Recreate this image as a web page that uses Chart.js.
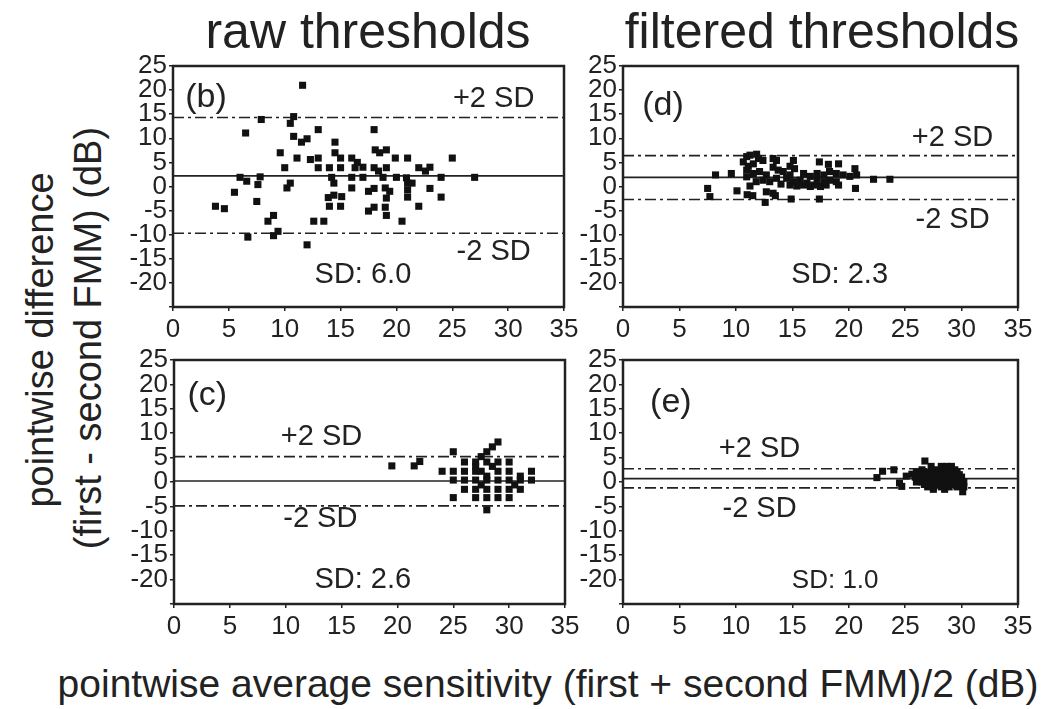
<!DOCTYPE html>
<html lang="en">
<head>
<meta charset="UTF-8">
<title>Pointwise difference vs average sensitivity</title>
<script src="https://cdn.jsdelivr.net/npm/chart.js"></script>
<style>
  body { margin: 0; background: #fff; }
  #page { position: relative; width: 1042px; height: 709px; overflow: hidden;
          font-family: 'Liberation Sans', Arial, sans-serif; color: #222; }
  .t { position: absolute; white-space: nowrap; line-height: 1; }
  canvas { position: absolute; }
</style>
</head>
<body>
<div id="page">
  <div class="t" style="left:368px; top:6px; font-size:50px; transform:translateX(-50%);">raw thresholds</div>
  <div class="t" style="left:822px; top:6px; font-size:50px; transform:translateX(-50%);">filtered thresholds</div>
  <div class="t" style="left:40px; top:340px; font-size:38px; transform:translate(-50%,-50%) rotate(-90deg);">pointwise difference</div>
  <div class="t" style="left:88px; top:338px; font-size:38px; transform:translate(-50%,-50%) rotate(-90deg);">(first - second FMM) (dB)</div>
  <div class="t" style="left:548px; top:664px; font-size:39px; transform:translateX(-50%);">pointwise average sensitivity (first + second FMM)/2 (dB)</div>
  <canvas id="panelB"></canvas>
  <canvas id="panelD"></canvas>
  <canvas id="panelC"></canvas>
  <canvas id="panelE"></canvas>
</div>

<script>
// x axis: pointwise average sensitivity (dB), y axis: pointwise difference (dB)
const xTicks = [0, 5, 10, 15, 20, 25, 30, 35];
const yTicks = [-25, -20, -15, -10, -5, 0, 5, 10, 15, 20, 25];

// (b) raw thresholds, first eye
const bX = [11.6, 7.9, 10.8, 10.5, 6.5, 13.0, 18.0, 10.8, 11.5, 12.0, 14.5, 9.6, 14.5, 18.1, 18.5,
            19.1, 11.1, 12.3, 13.0, 15.0, 16.0, 16.5, 17.0, 19.9, 21.0, 25.0, 10.0, 13.0, 14.0, 15.0,
            16.3, 18.0, 18.4, 19.1, 22.0, 22.6, 23.0, 6.0, 6.6, 7.8, 7.6, 14.2, 16.0, 17.0, 18.8,
            20.0, 20.9, 24.0, 27.0, 5.5, 7.5, 3.8, 4.6, 10.2, 10.5, 14.4, 13.9, 14.4, 15.1, 14.0,
            15.0, 16.0, 17.5, 18.0, 19.0, 19.4, 19.1, 17.5, 18.0, 19.0, 19.1, 21.0, 21.4, 21.0, 21.0,
            23.0, 24.0, 22.0, 20.5, 12.6, 13.5, 8.5, 9.0, 9.0, 9.4, 6.7, 12.0];
const bY = [21.0, 13.9, 14.5, 13.1, 11.1, 11.8, 11.8, 10.4, 9.2, 9.9, 9.2, 7.0, 7.0, 7.6, 7.0,
            7.6, 5.9, 5.6, 5.9, 5.9, 5.9, 5.0, 4.0, 5.9, 5.9, 5.9, 3.9, 3.9, 3.9, 3.9,
            3.9, 3.9, 3.2, 3.9, 3.9, 3.2, 4.0, 1.9, 1.1, 2.0, 0.4, 1.9, 1.9, 1.9, 1.9,
            1.9, 1.8, 1.9, 1.9, -1.2, -3.1, -4.1, -4.6, -0.3, 0.7, 0.7, -2.3, -1.8, -2.1, -4.1,
            -4.1, -0.3, -1.0, -0.4, -0.3, -1.0, -2.4, -5.1, -4.3, -4.3, -6.0, 0.7, 0.7, -0.7, -2.2,
            -0.4, -2.2, -4.1, -7.2, -7.2, -7.2, -7.2, -6.0, -10.2, -9.3, -10.5, -12.1];

// (d) filtered thresholds, first eye
const dX = [10.96, 11.25, 11.84, 12.0, 10.66, 11.1, 11.55, 12.4, 13.3, 13.6, 15.1, 14.8, 15.2, 17.4, 18.2,
            19.1, 20.55, 20.7, 13.3, 13.75, 14.2, 14.8, 16.0, 16.6, 17.2, 17.8, 18.3, 18.9, 19.5, 20.1,
            10.96, 11.55, 12.1, 12.7, 14.5, 15.1, 15.7, 16.3, 16.9, 17.5, 17.8, 18.0, 17.2, 16.6, 16.0,
            15.4, 14.8, 18.3, 18.9, 11.8, 12.4, 13.0, 13.6, 14.0, 7.5, 7.7, 8.2, 9.6, 10.1, 11.0,
            11.5, 12.6, 12.7, 13.3, 13.5, 14.9, 17.4, 19.1, 20.6, 22.2, 23.65, 10.96, 11.25];
const dY = [6.2, 6.5, 6.7, 5.8, 5.1, 4.2, 4.7, 5.4, 5.8, 5.4, 5.4, 4.2, 3.7, 5.1, 4.6,
            4.7, 3.7, 2.4, 4.0, 3.4, 3.1, 2.4, 2.7, 2.1, 2.7, 2.4, 3.1, 2.7, 2.4, 2.1,
            2.0, 2.7, 3.1, 2.4, 1.7, 1.0, 1.3, 0.7, 0.3, 0.0, 1.0, 0.3, 1.3, 0.0, 0.3,
            0.1, 0.3, 1.3, 1.0, 1.0, 1.3, 1.0, 1.7, 0.5, -0.4, -2.1, 2.4, 2.7, -0.9, -1.7,
            -1.9, -3.3, -1.1, -1.4, -1.9, -2.6, -2.6, 0.3, -0.4, 1.5, 1.5, 3.4, 0.1];

// (c) raw thresholds, second eye
const cX = [19.5, 21.5, 22.0, 25.0, 29.0, 28.5, 28.0, 27.5, 26.0, 27.0, 28.0, 29.0, 30.0, 27.0, 28.5,
            24.0, 25.0, 26.0, 27.0, 27.5, 29.0, 30.0, 32.0, 28.0, 31.0, 25.0, 26.0, 27.0, 28.0, 29.0,
            30.0, 31.0, 32.0, 27.5, 30.5, 26.0, 27.0, 28.0, 29.0, 30.0, 31.0, 25.0, 27.0, 28.0, 29.0,
            30.0, 28.0];
const cY = [3.3, 3.3, 4.2, 6.2, 8.2, 7.2, 6.2, 5.2, 4.1, 4.1, 4.1, 4.1, 4.1, 3.2, 3.2,
            2.2, 2.2, 2.2, 2.2, 2.2, 2.2, 2.2, 2.2, 1.2, 1.2, 0.4, 0.4, 0.4, 0.4, 0.4,
            0.4, 0.4, 0.4, -0.6, -0.6, -1.5, -1.5, -1.5, -1.5, -1.5, -1.5, -3.2, -3.2, -3.2, -3.2,
            -3.2, -5.7];

// (e) filtered thresholds, second eye
const eX = [22.5, 23.0, 24.0, 24.5, 24.7, 25.1, 25.6, 26.75,
            27.3, 28.2, 28.7, 29.1, 26.5, 27.8, 28.4, 29.4,
            26.0, 26.9, 27.3, 28.0, 28.7, 29.1, 29.6, 26.2, 26.7, 27.5, 28.2, 28.9, 29.4, 29.8,
            25.9, 26.5, 27.0, 27.8, 28.5, 29.1, 29.6, 30.0, 26.2, 26.9, 27.3, 28.0, 28.7, 29.4, 29.8,
            26.0, 26.5, 27.0, 27.5, 28.2, 28.9, 29.4, 30.2, 26.7, 27.3, 28.0, 28.5, 29.1, 29.8,
            27.0, 27.5, 28.2, 28.9, 29.6, 30.2, 27.5, 28.5, 30.1];
const eY = [0.9, 2.2, 2.5, -0.2, -0.9, 1.2, 1.6, 4.3,
            3.2, 3.2, 3.2, 3.2, 2.5, 2.5, 2.5, 2.5,
            2.0, 2.0, 2.0, 2.0, 2.0, 2.0, 2.0, 1.5, 1.5, 1.5, 1.5, 1.5, 1.5, 1.5,
            1.0, 1.0, 1.0, 1.0, 1.0, 1.0, 1.0, 1.0, 0.5, 0.5, 0.5, 0.5, 0.5, 0.5, 0.5,
            0.0, 0.0, 0.0, 0.0, 0.0, 0.0, 0.0, 0.0, -0.5, -0.5, -0.5, -0.5, -0.5, -0.5,
            -1.0, -1.0, -1.0, -1.0, -1.0, -1.0, -1.5, -1.5, -2.0];

// mean difference and +/-2 SD limits, panels b, d, c, e
const meanDiff = [2.2, 1.9, 0.2, 0.7];
const upperLim = [14.3, 6.4, 5.2, 2.7];
const lowerLim = [-9.7, -2.7, -4.9, -1.2];
const sdText = ['SD: 6.0', 'SD: 2.3', 'SD: 2.6', 'SD: 1.0'];

const FONT = "'Liberation Sans', Arial, sans-serif";
const INK = '#222';

const framePlugin = {
  id: 'frame',
  afterDatasetsDraw(chart, args, opts) {
    const { ctx, chartArea: a, scales } = chart;
    ctx.save();
    ctx.strokeStyle = INK;
    ctx.lineWidth = 2.5;
    ctx.strokeRect(a.left, a.top, a.right - a.left, a.bottom - a.top);
    ctx.fillStyle = INK;
    ctx.textBaseline = 'middle';
    opts.notes.forEach(n => {
      ctx.font = n.size + 'px ' + FONT;
      ctx.textAlign = n.align || 'center';
      ctx.fillText(n.text, scales.x.getPixelForValue(n.x), scales.y.getPixelForValue(n.y));
    });
    ctx.restore();
  }
};

function limitLine(v, dash) {
  return {
    type: 'line',
    data: [{ x: xTicks[0], y: v }, { x: xTicks[xTicks.length - 1], y: v }],
    borderColor: INK,
    borderWidth: 1.6,
    borderDash: dash,
    pointRadius: 0,
    order: 2
  };
}

function makePanel(id, area, xs, ys, k, notes) {
  const padTop = 18, padRight = 22, yW = 60, xH = 40;
  const cv = document.getElementById(id);
  const w = area.r - area.l + yW + padRight;
  const h = area.b - area.t + padTop + xH;
  cv.style.left = (area.l - yW) + 'px';
  cv.style.top = (area.t - padTop) + 'px';
  cv.width = w; cv.height = h;
  cv.style.width = w + 'px'; cv.style.height = h + 'px';

  new Chart(cv, {
    type: 'scatter',
    data: {
      datasets: [
        {
          data: xs.map((x, i) => ({ x: x, y: ys[i] })),
          pointStyle: 'rect',
          pointRadius: 5,
          backgroundColor: '#111',
          borderWidth: 0,
          order: 1
        },
        limitLine(meanDiff[k], []),
        limitLine(upperLim[k], [11, 4, 3, 4]),
        limitLine(lowerLim[k], [11, 4, 3, 4])
      ]
    },
    options: {
      responsive: false,
      animation: false,
      layout: { padding: { top: padTop, right: padRight, left: 0, bottom: 0 } },
      plugins: {
        legend: { display: false },
        tooltip: { enabled: false },
        frame: { notes: notes }
      },
      scales: {
        x: {
          type: 'linear',
          min: xTicks[0], max: xTicks[xTicks.length - 1],
          afterBuildTicks: s => { s.ticks = xTicks.map(v => ({ value: v })); },
          afterFit: s => { s.height = xH; },
          grid: { drawOnChartArea: false, color: INK, tickLength: 4, lineWidth: 1.5 },
          border: { display: false },
          ticks: { autoSkip: false, maxRotation: 0, padding: 3, color: INK,
                   font: { family: FONT, size: 26 } }
        },
        y: {
          type: 'linear',
          min: yTicks[0], max: yTicks[yTicks.length - 1],
          afterBuildTicks: s => { s.ticks = yTicks.map(v => ({ value: v })); },
          afterFit: s => { s.width = yW; },
          grid: { drawOnChartArea: false, color: INK, tickLength: 4, lineWidth: 1.5 },
          border: { display: false },
          ticks: { autoSkip: false, padding: 2, color: INK,
                   font: { family: FONT, size: 26, lineHeight: 1 },
                   callback: v => (v === yTicks[0] ? '' : v) }
        }
      }
    },
    plugins: [framePlugin]
  });
}

makePanel('panelB', { l: 173, r: 564, t: 66, b: 307 }, bX, bY, 0, [
  { text: '(b)', x: 1.1, y: 18.4, size: 34, align: 'left' },
  { text: '+2 SD', x: 28.7, y: 18.2, size: 29 },
  { text: '-2 SD', x: 28.7, y: -13.5, size: 29 },
  { text: sdText[0], x: 17.0, y: -18.4, size: 29 }
]);
makePanel('panelD', { l: 623, r: 1018, t: 66, b: 307 }, dX, dY, 1, [
  { text: '(d)', x: 1.7, y: 16.7, size: 34, align: 'left' },
  { text: '+2 SD', x: 29.2, y: 10.1, size: 29 },
  { text: '-2 SD', x: 29.2, y: -6.9, size: 29 },
  { text: sdText[1], x: 19.2, y: -18.4, size: 29 }
]);
makePanel('panelC', { l: 174, r: 565, t: 360, b: 604 }, cX, cY, 2, [
  { text: '(c)', x: 1.2, y: 17.6, size: 34, align: 'left' },
  { text: '+2 SD', x: 13.2, y: 9.2, size: 29 },
  { text: '-2 SD', x: 13.1, y: -7.5, size: 29 },
  { text: sdText[2], x: 16.9, y: -20.0, size: 29 }
]);
makePanel('panelE', { l: 623, r: 1018, t: 360, b: 604 }, eX, eY, 3, [
  { text: '(e)', x: 2.4, y: 16.2, size: 34, align: 'left' },
  { text: '+2 SD', x: 12.1, y: 6.7, size: 29 },
  { text: '-2 SD', x: 12.1, y: -5.5, size: 29 },
  { text: sdText[3], x: 18.8, y: -20.3, size: 26 }
]);
</script>
</body>
</html>
